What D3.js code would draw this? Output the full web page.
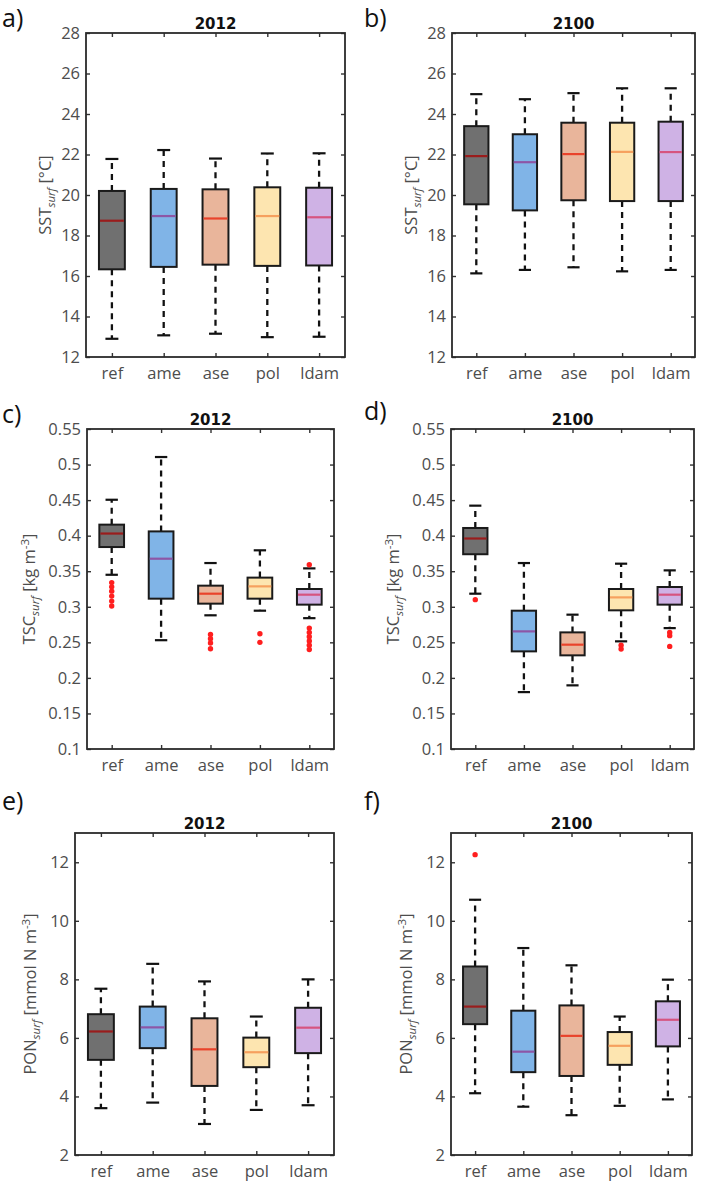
<!DOCTYPE html>
<html>
<head>
<meta charset="utf-8">
<script src="https://cdn.jsdelivr.net/npm/d3@7"></script>
<style>
  html, body { margin: 0; padding: 0; background: #fff; }
  svg { display: block; }
</style>
</head>
<body>
<svg id="chart" width="704" height="1182"></svg>
<script>
// ---------------- DATA ----------------
const categories = ["ref", "ame", "ase", "pol", "ldam"];

// five-number summaries per category: [lower whisker, Q1, median, Q3, upper whisker]
const sst2012 = [
  [12.90, 16.33, 18.73, 20.20, 21.78],
  [13.07, 16.45, 18.96, 20.30, 22.22],
  [13.15, 16.56, 18.84, 20.28, 21.80],
  [12.98, 16.50, 18.96, 20.38, 22.05],
  [13.00, 16.52, 18.90, 20.36, 22.06]
];
const sst2012Out = [[], [], [], [], []];

const sst2100 = [
  [16.13, 19.54, 21.92, 23.40, 24.98],
  [16.30, 19.24, 21.62, 23.00, 24.73],
  [16.43, 19.74, 22.02, 23.57, 25.03],
  [16.23, 19.70, 22.13, 23.57, 25.27],
  [16.30, 19.70, 22.12, 23.62, 25.27]
];
const sst2100Out = [[], [], [], [], []];

const tsc2012 = [
  [0.345, 0.384, 0.403, 0.4155, 0.4505],
  [0.253, 0.3114, 0.3676, 0.406, 0.5106],
  [0.288, 0.3044, 0.3184, 0.3297, 0.3615],
  [0.2945, 0.3114, 0.3287, 0.341, 0.3794],
  [0.284, 0.303, 0.317, 0.325, 0.354]
];
const tsc2012Out = [
  [0.334, 0.328, 0.322, 0.315, 0.308, 0.301],
  [],
  [0.261, 0.255, 0.249, 0.241],
  [0.262, 0.250],
  [0.359, 0.270, 0.264, 0.258, 0.252, 0.246, 0.240]
];

const tsc2100 = [
  [0.3184, 0.3739, 0.396, 0.4108, 0.4422],
  [0.180, 0.2373, 0.2654, 0.2945, 0.3615],
  [0.1895, 0.2317, 0.2467, 0.264, 0.2889],
  [0.2514, 0.295, 0.3132, 0.325, 0.3606],
  [0.270, 0.303, 0.317, 0.3278, 0.3512]
];
const tsc2100Out = [
  [0.310],
  [],
  [],
  [0.2458, 0.2406],
  [0.264, 0.2594, 0.2443]
];

const pon2012 = [
  [3.60, 5.25, 6.22, 6.81, 7.68],
  [3.79, 5.65, 6.36, 7.07, 8.53],
  [3.06, 4.36, 5.61, 6.67, 7.93],
  [3.54, 5.00, 5.51, 6.01, 6.73],
  [3.70, 5.48, 6.35, 7.03, 8.00]
];
const pon2012Out = [[], [], [], [], []];

const pon2100 = [
  [4.11, 6.47, 7.07, 8.44, 10.72],
  [3.65, 4.83, 5.53, 6.93, 9.07],
  [3.36, 4.70, 6.07, 7.11, 8.48],
  [3.68, 5.08, 5.73, 6.20, 6.73],
  [3.90, 5.71, 6.62, 7.25, 7.99]
];
const pon2100Out = [[12.26], [], [], [], []];

const sstTicks = [12, 14, 16, 18, 20, 22, 24, 26, 28];
const sstTickLabels = ["12", "14", "16", "18", "20", "22", "24", "26", "28"];
const tscTicks = [0.1, 0.15, 0.2, 0.25, 0.3, 0.35, 0.4, 0.45, 0.5, 0.55];
const tscTickLabels = ["0.1", "0.15", "0.2", "0.25", "0.3", "0.35", "0.4", "0.45", "0.5", "0.55"];
const ponTicks = [2, 4, 6, 8, 10, 12];
const ponTickLabels = ["2", "4", "6", "8", "10", "12"];

// ---------------- STYLE ----------------
const boxFill = ["#707070", "#80b4e7", "#e9b59b", "#fde5b0", "#cfb2e5"];
const medianColor = ["#9a1c1c", "#8d56a6", "#e9432b", "#f6a05e", "#d6547f"];
const tickColor = "#4d4d4d";

const svg = d3.select("#chart");

const panels = [
  { tag: "a)", tagX: 2, tagY: 27, title: "2012", data: sst2012, out: sst2012Out, domain: [12, 28], ticks: sstTicks, tickLabels: sstTickLabels, ylab: "sst", rect: [86, 33, 345, 357], ylabX: 45 },
  { tag: "b)", tagX: 364, tagY: 27, title: "2100", data: sst2100, out: sst2100Out, domain: [12, 28], ticks: sstTicks, tickLabels: sstTickLabels, ylab: "sst", rect: [452, 33, 695, 357], ylabX: 411 },
  { tag: "c)", tagX: 2, tagY: 423, title: "2012", data: tsc2012, out: tsc2012Out, domain: [0.1, 0.55], ticks: tscTicks, tickLabels: tscTickLabels, ylab: "tsc", rect: [87, 429, 334, 749], ylabX: 29 },
  { tag: "d)", tagX: 364, tagY: 420, title: "2100", data: tsc2100, out: tsc2100Out, domain: [0.1, 0.55], ticks: tscTicks, tickLabels: tscTickLabels, ylab: "tsc", rect: [451, 429, 694, 749], ylabX: 393 },
  { tag: "e)", tagX: 2, tagY: 810, title: "2012", data: pon2012, out: pon2012Out, domain: [2, 13], ticks: ponTicks, tickLabels: ponTickLabels, ylab: "pon", rect: [75, 833, 334, 1155], ylabX: 30 },
  { tag: "f)", tagX: 364, tagY: 810, title: "2100", data: pon2100, out: pon2100Out, domain: [2, 13], ticks: ponTicks, tickLabels: ponTickLabels, ylab: "pon", rect: [451, 833, 692, 1155], ylabX: 406 }
];

function yLabel(g, kind, cx, cy) {
  const t = g.append("text")
    .attr("transform", `translate(${cx},${cy}) rotate(-90)`)
    .attr("text-anchor", "middle")
    .attr("dy", "0.35em")
    .attr("font-family", "'Open Sans', sans-serif")
    .attr("font-size", 16.5)
    .attr("fill", tickColor);
  const main = kind === "sst" ? "SST" : kind === "tsc" ? "TSC" : "PON";
  t.append("tspan").text(main);
  t.append("tspan").attr("font-size", 11.5).attr("font-style", "italic").attr("dy", 4).text("surf");
  if (kind === "sst") {
    t.append("tspan").attr("dy", -4).text(" [°C]");
  } else {
    t.append("tspan").attr("dy", -4).text(kind === "tsc" ? " [kg m" : " [mmol N m");
    t.append("tspan").attr("font-size", 11.5).attr("dy", -6).text("-3");
    t.append("tspan").attr("dy", 6).text("]");
  }
}

panels.forEach(p => {
  const [x0, y0, x1, y1] = p.rect;
  const g = svg.append("g");
  const x = d3.scalePoint().domain(categories).range([x0, x1]).padding(0.5);
  const y = d3.scaleLinear().domain(p.domain).range([y1, y0]);
  const bw = x.step() * 0.5;
  const cw = bw * 0.5;

  // panel tag
  g.append("text").attr("x", p.tagX).attr("y", p.tagY)
    .attr("font-family", "'Open Sans', sans-serif").attr("font-size", 25)
    .attr("fill", "#111").text(p.tag);

  // title
  g.append("text").attr("x", (x0 + x1) / 2).attr("y", y0 - 4)
    .attr("text-anchor", "middle")
    .attr("font-family", "'DejaVu Sans', sans-serif").attr("font-weight", "bold")
    .attr("font-size", 15).attr("fill", "#111").text(p.title);

  // boxes
  categories.forEach((c, i) => {
    const [mn, q1, md, q3, mx] = p.data[i];
    const cx = x(c);
    const bg = g.append("g");
    // whiskers
    bg.append("line").attr("x1", cx).attr("x2", cx).attr("y1", y(q3)).attr("y2", y(mx))
      .attr("stroke", "#111").attr("stroke-width", 2.3).attr("stroke-dasharray", "6,5");
    bg.append("line").attr("x1", cx).attr("x2", cx).attr("y1", y(q1)).attr("y2", y(mn))
      .attr("stroke", "#111").attr("stroke-width", 2.3).attr("stroke-dasharray", "6,5");
    // caps
    [mx, mn].forEach(v => {
      bg.append("line").attr("x1", cx - cw / 2).attr("x2", cx + cw / 2).attr("y1", y(v)).attr("y2", y(v))
        .attr("stroke", "#111").attr("stroke-width", 2.2);
    });
    // box
    bg.append("rect").attr("x", cx - bw / 2).attr("width", bw)
      .attr("y", y(q3)).attr("height", y(q1) - y(q3))
      .attr("fill", boxFill[i]).attr("stroke", "#1a1a1a").attr("stroke-width", 2);
    // median
    bg.append("line").attr("x1", cx - bw / 2 + 1).attr("x2", cx + bw / 2 - 1)
      .attr("y1", y(md)).attr("y2", y(md))
      .attr("stroke", medianColor[i]).attr("stroke-width", 2.2);
    // outliers
    bg.selectAll("circle.o").data(p.out[i]).enter().append("circle")
      .attr("cx", cx).attr("cy", d => y(d)).attr("r", 2.7).attr("fill", "#ff1f1f");
  });

  // axes (inward ticks, mirrored)
  const left = g.append("g").attr("transform", `translate(${x0},0)`)
    .call(d3.axisLeft(y).tickValues(p.ticks).tickFormat((d, i) => p.tickLabels[i]).tickSizeInner(-4).tickSizeOuter(0).tickPadding(6));
  const right = g.append("g").attr("transform", `translate(${x1},0)`)
    .call(d3.axisRight(y).tickValues(p.ticks).tickFormat("").tickSizeInner(-4).tickSizeOuter(0));
  const top = g.append("g").attr("transform", `translate(0,${y0})`)
    .call(d3.axisTop(x).tickFormat("").tickSizeInner(-4).tickSizeOuter(0));
  const bottom = g.append("g").attr("transform", `translate(0,${y1})`)
    .call(d3.axisBottom(x).tickSizeInner(-4).tickSizeOuter(0).tickPadding(10));
  [left, right, top, bottom].forEach(a => {
    a.select(".domain").remove();
    a.selectAll(".tick line").attr("stroke", "#333").attr("stroke-width", 1.4);
    a.selectAll("text").attr("font-family", "'Open Sans', sans-serif").attr("font-size", 16.5).attr("fill", tickColor);
  });

  // frame
  g.append("rect").attr("x", x0).attr("y", y0).attr("width", x1 - x0).attr("height", y1 - y0)
    .attr("fill", "none").attr("stroke", "#2b2b2b").attr("stroke-width", 1.8);

  yLabel(g, p.ylab, p.ylabX, (y0 + y1) / 2);
});
</script>
</body>
</html>
